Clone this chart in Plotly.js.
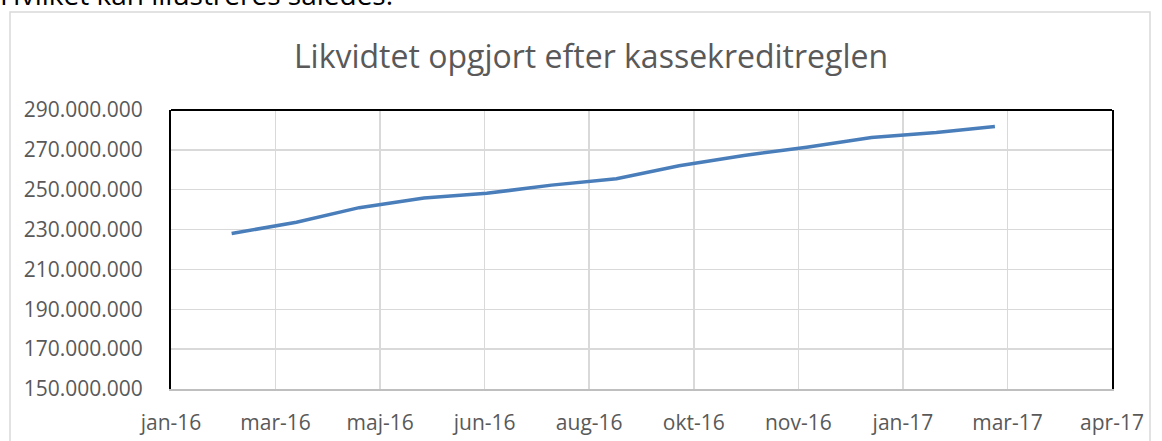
<!DOCTYPE html>
<html>
<head>
<meta charset="utf-8">
<script src="https://cdn.plot.ly/plotly-3.0.1.min.js"></script>
<style>
html,body{margin:0;padding:0;background:#fff;overflow:hidden;}
#chart{width:1162px;height:441px;}
</style>
</head>
<body>
<div id="chart"></div>
<script>
// Data
const dates = ['2016-02-29','2016-03-31','2016-04-30','2016-05-31','2016-06-30','2016-07-31',
               '2016-08-31','2016-09-30','2016-10-31','2016-11-30','2016-12-31','2017-01-31','2017-02-28'];
const values = [228000000, 233700000, 241000000, 245800000, 248200000, 252300000,
                255500000, 262000000, 267200000, 271300000, 276200000, 278700000, 281700000];
const tickDates = ['2016-01-31','2016-03-21','2016-05-10','2016-06-29','2016-08-18',
                   '2016-10-07','2016-11-26','2017-01-15','2017-03-06','2017-04-25'];
const tickLabels = ['jan-16','mar-16','maj-16','jun-16','aug-16','okt-16','nov-16','jan-17','mar-17','apr-17'];
const yTicks = [150000000,170000000,190000000,210000000,230000000,250000000,270000000,290000000];
const chartTitle = 'Likvidtet opgjort efter kassekreditreglen';
const heading = 'Hvilket kan illustreres således:';

const W = 1162, H = 441;
const L = 171, R = 1112, T = 110, B = 389;
const pw = R - L, ph = B - T;
const px = v => (v - L) / pw;
const py = v => (B - v) / ph;

const font = "'Open Sans', sans-serif";
const grey = '#595959';

const trace = {
  x: dates, y: values, type: 'scatter', mode: 'lines',
  line: {color: '#4a7ebb', width: 3.5},
  hoverinfo: 'skip'
};

const layout = {
  width: W, height: H,
  margin: {l: L, r: W - R, t: T, b: H - B, pad: 0},
  paper_bgcolor: '#fff', plot_bgcolor: '#fff',
  separators: ',.',
  showlegend: false,
  font: {family: font, color: grey, size: 21},
  title: {
    text: chartTitle,
    font: {family: font, size: 32, color: grey},
    x: 591 / W, xanchor: 'center', xref: 'container',
    y: 1 - 57 / H, yanchor: 'middle', yref: 'container'
  },
  xaxis: {
    type: 'date',
    range: [tickDates[0], tickDates[tickDates.length - 1]],
    tickmode: 'array', tickvals: tickDates, ticktext: tickLabels,
    showgrid: true, gridcolor: '#d9d9d9', gridwidth: 1.5,
    showline: true, linecolor: '#bfbfbf', linewidth: 2,
    zeroline: false, ticks: '', ticklabelstandoff: 14,
    tickfont: {family: font, size: 21, color: grey},
    fixedrange: true
  },
  yaxis: {
    range: [150000000, 290000000],
    tickmode: 'array', tickvals: yTicks, tickformat: ',d',
    showgrid: true, gridcolor: '#d9d9d9', gridwidth: 1.5,
    showline: true, linecolor: '#000', linewidth: 2, mirror: true,
    zeroline: false, ticks: '', ticklabelstandoff: 22,
    tickfont: {family: font, size: 21, color: grey},
    fixedrange: true
  },
  shapes: [
    {type: 'line', xref: 'paper', yref: 'paper', x0: 0, x1: 1, y0: 1, y1: 1,
     line: {color: '#000', width: 2}, layer: 'above'},
    {type: 'rect', xref: 'paper', yref: 'paper',
     x0: px(10), x1: px(1150), y0: py(12), y1: py(460),
     line: {color: '#d9d9d9', width: 1.5}, fillcolor: 'rgba(0,0,0,0)', layer: 'below'}
  ],
  annotations: [
    {text: heading, xref: 'paper', yref: 'paper', x: px(-2), y: py(15),
     xanchor: 'left', yanchor: 'bottom', showarrow: false,
     font: {family: font, size: 28, color: '#000'}}
  ]
};

Plotly.newPlot('chart', [trace], layout, {displayModeBar: false, staticPlot: true});
</script>
</body>
</html>
